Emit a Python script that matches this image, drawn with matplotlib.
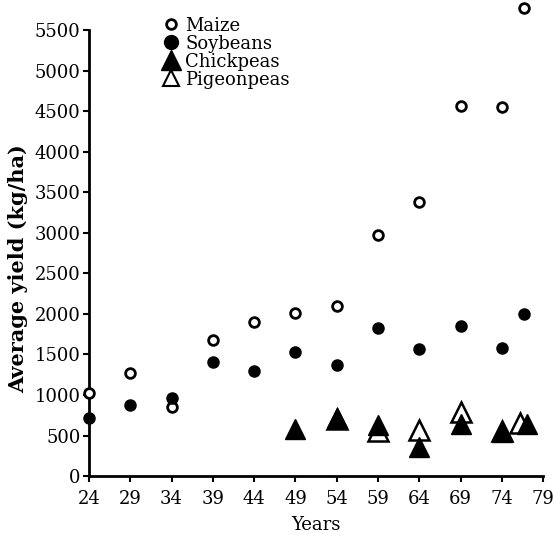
import matplotlib
matplotlib.use('Agg')
import matplotlib.pyplot as plt
from matplotlib.lines import Line2D

years = [24, 29, 34, 39, 44, 49, 54, 59, 64, 69, 74, 76.7]
maize = [1030, 1270, 850, 1680, 1900, 2010, 2100, 2970, 3380, 4560, 4550, 5770]
soybeans = [720, 880, 960, 1410, 1300, 1530, 1370, 1830, 1570, 1850, 1580, 2000]
chick_years = [49, 54, 59, 64, 69, 74, 77]
chickpeas = [580, 720, 630, 360, 640, 540, 640]
pigeon_years = [54, 59, 64, 69, 74, 76.2]
pigeonpeas = [700, 560, 570, 790, 560, 650]
xticks = list(range(24, 80, 5))
yticks = list(range(0, 5501, 500))

FONT = 'DejaVu Serif'
fig = plt.figure(figsize=(5.56, 5.35), dpi=100)
ax = fig.add_axes([0.160, 0.110, 0.817, 0.834])

ax.plot(years, maize, 'o', ms=7, mfc='white', mec='black', mew=2, clip_on=False, zorder=3)
ax.plot(years, soybeans, 'o', ms=8, mfc='black', mec='black', clip_on=False, zorder=4)
ax.plot(pigeon_years, pigeonpeas, '^', ms=14, mfc='white', mec='black', mew=1.8, clip_on=False, zorder=5)
ax.plot(chick_years, chickpeas, '^', ms=14, mfc='black', mec='black', clip_on=False, zorder=6)

ax.set_xlim(24, 79)
ax.set_ylim(0, 5500)
ax.set_xticks(xticks)
ax.set_yticks(yticks)
for s in ['top', 'right']:
    ax.spines[s].set_visible(False)
for s in ['left', 'bottom']:
    ax.spines[s].set_linewidth(2)
ax.tick_params(direction='out', length=4, width=1.5, labelsize=13, pad=2)
ax.tick_params(axis='x', pad=6)
for lab in ax.get_xticklabels() + ax.get_yticklabels():
    lab.set_fontfamily(FONT)
ax.set_xlabel('Years', fontsize=13, fontfamily=FONT, labelpad=6)
ax.set_ylabel('Average yield (kg/ha)', fontsize=15, fontfamily=FONT, fontweight='bold')
ax.yaxis.set_label_coords(-0.134, 0.466)

handles = [
    Line2D([], [], ls='', marker='o', ms=7, mfc='white', mec='black', mew=2),
    Line2D([], [], ls='', marker='o', ms=10, mfc='black', mec='black'),
    Line2D([], [], ls='', marker='^', ms=14, mfc='black', mec='black'),
    Line2D([], [], ls='', marker='^', ms=12, mfc='white', mec='black', mew=1.5),
]
labels = ['Maize', 'Soybeans', 'Chickpeas', 'Pigeonpeas']
leg = ax.legend(handles, labels, loc='upper left', bbox_to_anchor=(0.148, 1.046),
                frameon=False, handlelength=0.8, handletextpad=0.4, labelspacing=0.0,
                borderaxespad=0, prop={'family': FONT, 'size': 13})
fig.savefig('out.png', dpi=100)
